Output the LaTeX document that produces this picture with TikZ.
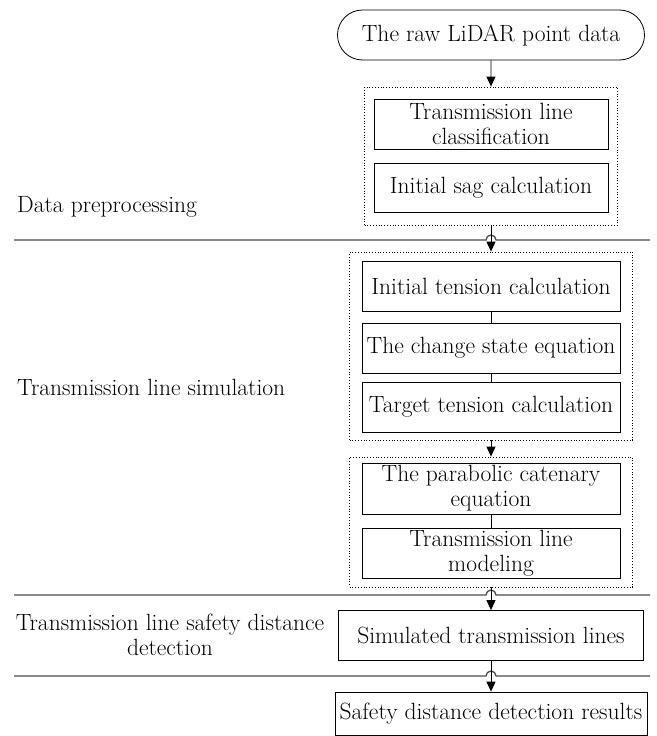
\documentclass[tikz,border=0pt]{standalone}
\usepackage{tikz}
\usetikzlibrary{arrows.meta,positioning,shapes.misc}

\tikzset{
  procbox/.style={draw, line width=0.8pt, align=center, inner sep=1pt},
  groupbox/.style={draw, dotted, line width=0.8pt},
  flow/.style={-{Triangle[length=10pt,width=9pt]}, line width=0.9pt},
  link/.style={line width=0.8pt},
  stageline/.style={line width=1.3pt, draw=black!70},
  stagelabel/.style={align=center, inner sep=0pt}
}

\begin{document}
\begin{tikzpicture}[x=1pt, y=-1pt, font=\fontsize{23.5}{25}\selectfont]
    \useasboundingbox (0,0) rectangle (656,736);

    % Input data
    \node[procbox, rounded rectangle, minimum width=309pt, minimum height=50pt] (raw) at (491,35) {The raw LiDAR point data};

    % Data preprocessing
    \node[groupbox, minimum width=253pt, minimum height=138pt] (grpA) at (491,156) {};
    \node[procbox, minimum width=234pt, minimum height=50pt] (cls) at (491,124) {Transmission line\\classification};
    \node[procbox, minimum width=234pt, minimum height=49pt] (sag) at (491,187.5) {Initial sag calculation};

    % Transmission line simulation
    \node[groupbox, minimum width=283pt, minimum height=188pt] (grpB) at (491,346) {};
    \node[procbox, minimum width=258pt, minimum height=50pt] (tinit) at (491,286) {Initial tension calculation};
    \node[procbox, minimum width=258pt, minimum height=50pt] (state) at (491,348) {The change state equation};
    \node[procbox, minimum width=258pt, minimum height=50pt] (ttgt) at (491,407) {Target tension calculation};

    \node[groupbox, minimum width=283pt, minimum height=130pt] (grpC) at (491,522) {};
    \node[procbox, minimum width=258pt, minimum height=51pt] (cat) at (491,488.5) {The parabolic catenary\\equation};
    \node[procbox, minimum width=258pt, minimum height=50pt] (model) at (491,553) {Transmission line\\modeling};

    % Safety distance detection
    \node[procbox, minimum width=305pt, minimum height=50pt] (simline) at (491,635.5) {Simulated transmission lines};
    \node[procbox, minimum width=312pt, minimum height=43pt] (result) at (491,713.5) {Safety distance detection results};

    % Stage labels
    \node[stagelabel, anchor=west] (lblA) at (17,207) {Data preprocessing};
    \node[stagelabel, anchor=west] (lblB) at (17,387) {Transmission line simulation};
    \node[stagelabel] (lblC) at (170,635) {Transmission line safety distance\\detection};

    % Stage separators with hops
    \foreach \ly in {240,595,676}
        \draw[stageline] (14,\ly) -- (486,\ly) arc (180:360:5) -- (650,\ly);

    % Flow
    \draw[flow] (raw) -- (grpA);
    \draw[flow] (grpA) -- (grpB);
    \draw[flow] (grpB) -- (grpC);
    \draw[flow] (grpC) -- (simline);
    \draw[flow] (simline) -- (result);
    \draw[link] (tinit) -- (state);
    \draw[link] (state) -- (ttgt);
    \draw[link] (cat) -- (model);
\end{tikzpicture}
\end{document}
